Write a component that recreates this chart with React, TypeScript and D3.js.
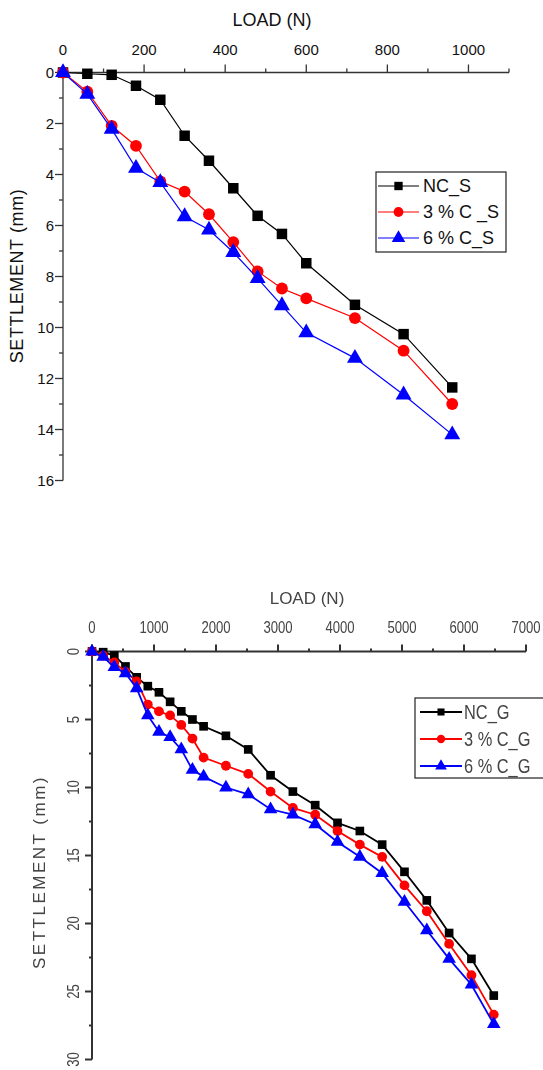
import React, { useEffect, useRef } from 'react';
import * as d3 from 'd3';

// top chart (S)
const loadS = [0, 60, 120, 180, 240, 300, 360, 420, 480, 540, 600, 720, 840, 960];
const ncS = [0, 0.05, 0.09, 0.52, 1.07, 2.48, 3.46, 4.54, 5.62, 6.33, 7.48, 9.11, 10.26, 12.35];
const c3S = [0, 0.75, 2.09, 2.88, 4.27, 4.67, 5.56, 6.65, 7.8, 8.47, 8.86, 9.63, 10.91, 13.0];
const c6S = [0, 0.85, 2.22, 3.75, 4.31, 5.65, 6.17, 7.05, 8.07, 9.14, 10.2, 11.2, 12.64, 14.2];
const seriesS = ['NC_S', '3 % C _S', '6 % C_S'];

// bottom chart (G)
const loadG = [0, 180, 360, 540, 720, 900, 1080, 1260, 1440, 1620, 1800, 2160, 2520, 2880, 3240, 3600, 3960, 4320, 4680, 5040, 5400, 5760, 6120, 6480];
const ncG = [0, 0.05, 0.3, 1.1, 1.9, 2.55, 3.0, 3.7, 4.4, 5.0, 5.5, 6.2, 7.2, 9.1, 10.3, 11.3, 12.6, 13.2, 14.2, 16.2, 18.3, 20.7, 22.6, 25.3];
const c3G = [0, 0.3, 0.8, 1.5, 2.2, 3.9, 4.4, 4.7, 5.4, 6.4, 7.8, 8.4, 9.0, 10.3, 11.5, 12.0, 13.2, 14.2, 15.1, 17.2, 19.1, 21.5, 23.8, 26.7];
const c6G = [0, 0.4, 1.15, 1.6, 2.7, 4.7, 5.9, 6.3, 7.2, 8.7, 9.2, 10.0, 10.5, 11.6, 12.0, 12.7, 14.0, 15.1, 16.3, 18.4, 20.5, 22.6, 24.5, 27.4];
const seriesG = ['NC_G', '3 % C_G', '6 % C_G'];

const colors = ['#000000', '#ff0000', '#0000ff'];
const shapes = [d3.symbolSquare, d3.symbolCircle, d3.symbolTriangle];

const App = () => {
  const svgRef = useRef(null);

  useEffect(() => {
    const svg = d3.select(svgRef.current);
    svg.selectAll('*').remove();

    svg.append('defs').append('filter').attr('id', 'soft')
      .append('feGaussianBlur').attr('stdDeviation', 0.55);

    const drawChart = (opt) => {
      const g = svg.append('g');
      if (opt.blur) g.attr('filter', 'url(#soft)');
      const x = d3.scaleLinear().domain(opt.xDomain).range(opt.xRange);
      const y = d3.scaleLinear().domain(opt.yDomain).range(opt.yRange);
      const axisColor = opt.axisColor;

      // text placed at (tx,ty), optionally rotated, condensed along its run by sq
      const label = (tx, ty, str, size, anchor, rot = 0, sq = opt.squeeze || 1) =>
        g.append('text')
          .attr('transform', `translate(${tx},${ty}) rotate(${rot}) scale(${sq},1)`)
          .attr('text-anchor', anchor).attr('font-size', size)
          .attr('font-family', opt.font).attr('fill', opt.textColor).text(str);

      // x axis on top
      const y0 = opt.yRange[0];
      g.append('line').attr('x1', opt.xRange[0]).attr('x2', opt.xRange[1])
        .attr('y1', y0).attr('y2', y0)
        .attr('stroke', axisColor).attr('stroke-width', opt.axisW);
      d3.range(opt.xDomain[0], opt.xDomain[1] + 1, opt.xMinor).forEach((v) => {
        const major = v % opt.xMajor === 0;
        g.append('line').attr('x1', x(v)).attr('x2', x(v)).attr('y1', y0)
          .attr('y2', y0 - (major ? opt.tickMajor : opt.tickMinor))
          .attr('stroke', axisColor).attr('stroke-width', opt.axisW);
        if (major) label(x(v), opt.xLabelY, v, opt.tickFont, 'middle');
      });

      // y axis on left
      const x0 = opt.xRange[0];
      g.append('line').attr('x1', x0).attr('x2', x0)
        .attr('y1', opt.yRange[0]).attr('y2', opt.yRange[1])
        .attr('stroke', axisColor).attr('stroke-width', opt.axisW);
      d3.range(opt.yDomain[0], opt.yDomain[1] + 0.01, opt.yMinor).forEach((v) => {
        const major = Math.abs(v % opt.yMajor) < 1e-6;
        g.append('line').attr('x1', x0).attr('x2', x0 - (major ? opt.tickMajor : opt.tickMinor))
          .attr('y1', y(v)).attr('y2', y(v))
          .attr('stroke', axisColor).attr('stroke-width', opt.axisW);
        if (major) {
          if (opt.rotateY) {
            label(opt.yLabelX, y(v), v, opt.tickFont, 'middle', -90).attr('dy', '0.35em');
          } else {
            label(opt.yLabelX, y(v), v, opt.tickFont, 'end').attr('dy', '0.35em');
          }
        }
      });

      // titles
      label(opt.titleX, opt.titleY, 'LOAD (N)', opt.titleFont, 'middle', 0, 1);
      label(opt.yTitleX, opt.yTitleY, 'SETTLEMENT (mm)', opt.yTitleFont, 'middle', -90, 1)
        .attr('letter-spacing', opt.yTitleSpacing);

      // series
      opt.series.forEach((vals, i) => {
        const pts = opt.loads.map((l, j) => [l, vals[j]]);
        g.append('path').datum(pts)
          .attr('d', d3.line().x((d) => x(d[0])).y((d) => y(d[1])))
          .attr('fill', 'none').attr('stroke', colors[i]).attr('stroke-width', opt.lineW);
        g.selectAll(null).data(pts).enter().append('path')
          .attr('transform', (d) => `translate(${x(d[0])},${y(d[1])})`)
          .attr('d', d3.symbol().type(shapes[i]).size(opt.markSize[i]))
          .attr('fill', colors[i]);
      });

      // legend
      const L = opt.legend;
      g.append('rect').attr('x', L.x).attr('y', L.y).attr('width', L.w).attr('height', L.h)
        .attr('fill', 'white').attr('stroke', '#222').attr('stroke-width', 1.2);
      opt.names.forEach((name, i) => {
        const yy = L.y + L.row0 + i * L.step;
        g.append('line').attr('x1', L.lx1).attr('x2', L.lx2).attr('y1', yy).attr('y2', yy)
          .attr('stroke', colors[i]).attr('stroke-width', opt.lineW);
        g.append('path').attr('transform', `translate(${(L.lx1 + L.lx2) / 2},${yy})`)
          .attr('d', d3.symbol().type(shapes[i]).size(opt.legMark[i])).attr('fill', colors[i]);
        label(L.tx, yy, name, L.font, 'start').attr('dy', '0.35em');
      });
    };

    drawChart({
      xDomain: [0, 1100], xRange: [63, 509], yDomain: [0, 16], yRange: [72.5, 480.5],
      xMajor: 200, xMinor: 100, yMajor: 2, yMinor: 1,
      tickMajor: 8, tickMinor: 4, axisW: 1.3, axisColor: '#333',
      xLabelY: 55, yLabelX: 54, tickFont: 15, titleFont: 18, titleX: 272, titleY: 26,
      yTitleX: 23, yTitleY: 276, yTitleFont: 18, yTitleSpacing: 0.6,
      font: 'Liberation Sans, Arial, sans-serif', textColor: '#111',
      loads: loadS, series: [ncS, c3S, c6S], names: seriesS,
      lineW: 1.2, markSize: [110, 110, 110], legMark: [70, 75, 80],
      legend: { x: 376, y: 172, w: 130, h: 80, row0: 14, step: 26, lx1: 378, lx2: 419, tx: 423, font: 18 },
    });

    drawChart({
      xDomain: [0, 7000], xRange: [92, 526], yDomain: [0, 30], yRange: [651.5, 1059.5],
      xMajor: 1000, xMinor: 500, yMajor: 5, yMinor: 2.5,
      tickMajor: 7, tickMinor: 3, axisW: 2, axisColor: '#333', rotateY: true,
      xLabelY: 633, yLabelX: 73, tickFont: 16, titleFont: 17, titleX: 307, titleY: 604,
      yTitleX: 45, yTitleY: 872, yTitleFont: 17, yTitleSpacing: 2.5, squeeze: 0.82,
      font: 'Liberation Sans, Arial, sans-serif', textColor: '#444', blur: true,
      loads: loadG, series: [ncG, c3G, c6G], names: seriesG,
      lineW: 1.8, markSize: [75, 75, 80], legMark: [50, 55, 60],
      legend: { x: 415, y: 698, w: 140, h: 80, row0: 14, step: 27, lx1: 420, lx2: 462, tx: 464, font: 20 },
    });
  }, []);

  return (
    <svg ref={svgRef} width={543} height={1070}
      style={{ position: 'absolute', left: 0, top: 0, background: 'white' }} />
  );
};

export default App;
